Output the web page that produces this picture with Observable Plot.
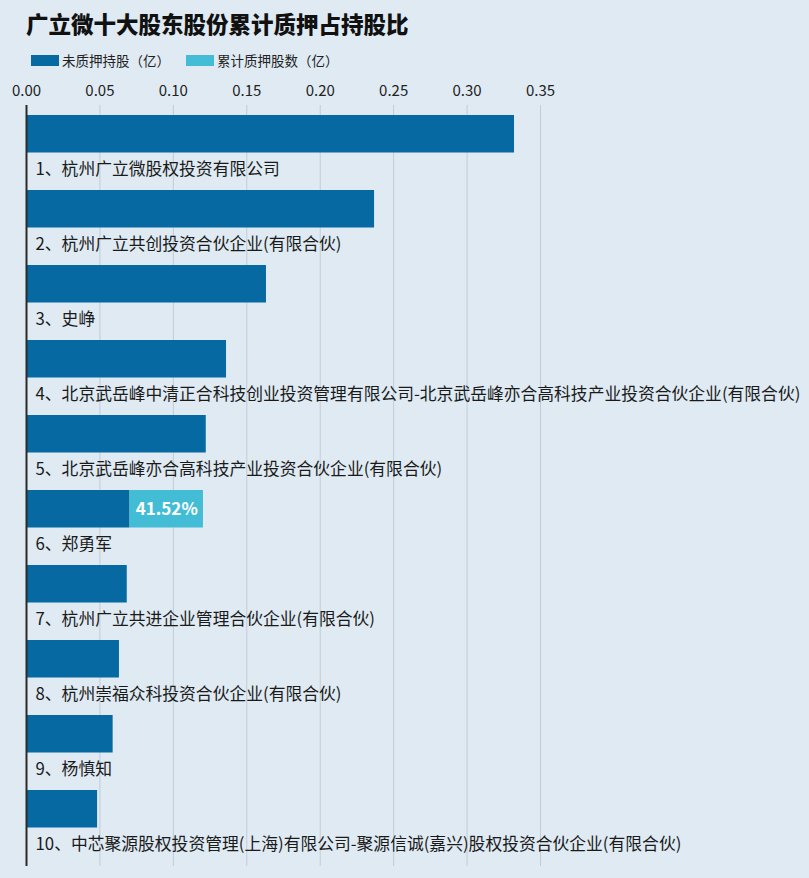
<!DOCTYPE html>
<html><head><meta charset="utf-8">
<script src="https://cdn.jsdelivr.net/npm/d3@7"></script>
<script src="https://cdn.jsdelivr.net/npm/@observablehq/plot@0.6"></script>
<style>
html,body{margin:0;padding:0;background:#dfeaf3;}
#wrap{position:relative;width:809px;height:878px;overflow:hidden;font-family:"Noto Sans CJK SC","Noto Sans",sans-serif;}
#title{position:absolute;left:26px;top:6px;font-size:22.5px;font-weight:900;color:#111;line-height:34px;white-space:nowrap;}
#legend{position:absolute;left:31px;top:50px;height:20px;display:flex;align-items:center;font-size:13.5px;color:#222;white-space:nowrap;}
.sw{display:inline-block;width:28px;height:11px;margin-right:3px;}
.item{display:flex;align-items:center;margin-right:0;}
#chart{position:absolute;left:0;top:75px;}
</style></head>
<body><div id="wrap">
<div id="title">广立微十大股东股份累计质押占持股比</div>
<div id="legend"></div>
<div id="chart"></div>
</div>
<script>
const names = [
  "1、杭州广立微股权投资有限公司",
  "2、杭州广立共创投资合伙企业(有限合伙)",
  "3、史峥",
  "4、北京武岳峰中清正合科技创业投资管理有限公司-北京武岳峰亦合高科技产业投资合伙企业(有限合伙)",
  "5、北京武岳峰亦合高科技产业投资合伙企业(有限合伙)",
  "6、郑勇军",
  "7、杭州广立共进企业管理合伙企业(有限合伙)",
  "8、杭州崇福众科投资合伙企业(有限合伙)",
  "9、杨慎知",
  "10、中芯聚源股权投资管理(上海)有限公司-聚源信诚(嘉兴)股权投资合伙企业(有限合伙)"
];
const unpledged = [0.3323, 0.2370, 0.1634, 0.1362, 0.1224, 0.0705, 0.0686, 0.0633, 0.0590, 0.0484];
const pledged   = [0, 0, 0, 0, 0, 0.0500, 0, 0, 0, 0];
const pledgeRatio = [null, null, null, null, null, "41.52%", null, null, null, null];
const seriesNames = ["未质押持股（亿）", "累计质押股数（亿）"];
const colors = ["#0769a1", "#43bdd6"];
const ticks = [0, 0.05, 0.10, 0.15, 0.20, 0.25, 0.30, 0.35];

const rows = names.map((n, i) => ({name: n, u: unpledged[i], p: pledged[i], total: unpledged[i] + pledged[i], ratio: pledgeRatio[i]}));

const legend = document.getElementById("legend");
seriesNames.forEach((s, i) => {
  const it = document.createElement("span");
  it.className = "item";
  it.style.marginRight = i === 0 ? "16px" : "0";
  it.innerHTML = `<span class="sw" style="background:${colors[i]}"></span><span>${s}</span>`;
  legend.appendChild(it);
});

const font = '"Noto Sans CJK SC","Noto Sans",sans-serif';
const chart = Plot.plot({
  width: 809,
  height: 803,
  marginTop: 30,
  marginBottom: 12,
  marginLeft: 26,
  marginRight: 269,
  style: {background: "transparent", fontFamily: font, overflow: "visible"},
  x: {domain: [0, 0.35], ticks: ticks, axis: null},
  y: {domain: names, range: [37, 792], padding: 0, axis: null},
  marks: [
    Plot.gridX(ticks, {stroke: "#c3ccd5", strokeOpacity: 1, strokeWidth: 1}),
    Plot.axisX(ticks, {anchor: "top", tickSize: 0, tickPadding: 10, tickFormat: d3.format(".2f"), fontSize: 15, fill: "#222"}),
    Plot.barX(rows, {y: "name", x1: 0, x2: "u", fill: colors[0], insetBottom: 37.5}),
    Plot.barX(rows.filter(d => d.p > 0), {y: "name", x1: "u", x2: "total", fill: colors[1], insetBottom: 37.5}),
    Plot.text(rows.filter(d => d.ratio), {y: "name", x: d => (d.u + d.total) / 2, text: "ratio", dy: -18.75, fill: "white", fontSize: 17, fontWeight: "bold", textAnchor: "middle"}),
    Plot.text(rows, {y: "name", x: 0, text: "name", dx: 9, dy: 17, textAnchor: "start", fontSize: 16.8, fill: "#1a1a1a"}),
    Plot.ruleX([0], {stroke: "#2b2b2b", strokeWidth: 2})
  ]
});
document.getElementById("chart").appendChild(chart);
</script>
</body></html>
